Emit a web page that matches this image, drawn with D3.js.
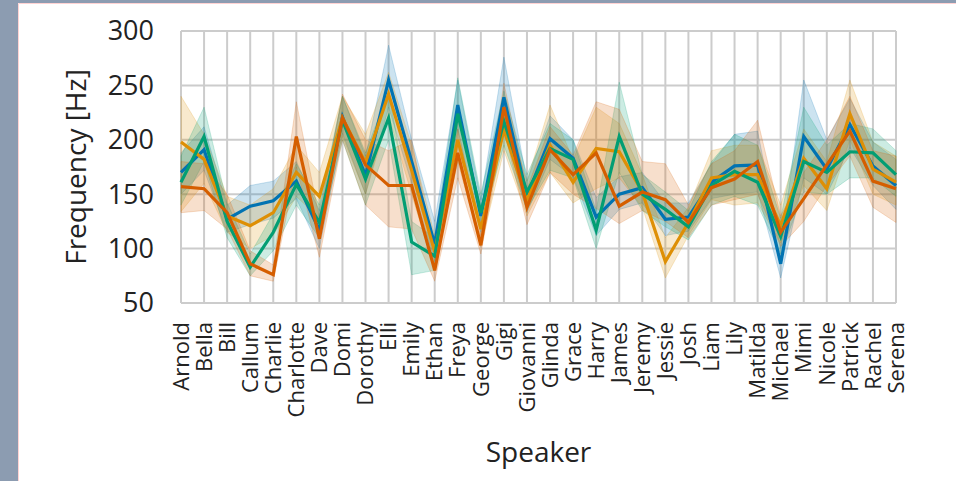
<!DOCTYPE html>
<html>
<head>
<meta charset="utf-8">
<script src="https://cdn.jsdelivr.net/npm/d3@7"></script>
<style>
  html, body { margin: 0; background: #fff; overflow: hidden; }
  svg { display: block; }
  text { font-family: "Open Sans", sans-serif; fill: #222; }
</style>
</head>
<body>
<svg id="chart"></svg>
<script>
// speakers on the x axis
const speakers = ["Arnold", "Bella", "Bill", "Callum", "Charlie", "Charlotte", "Dave", "Domi",
    "Dorothy", "Elli", "Emily", "Ethan", "Freya", "George", "Gigi", "Giovanni", "Glinda",
    "Grace", "Harry", "James", "Jeremy", "Jessie", "Josh", "Liam", "Lily", "Matilda",
    "Michael", "Mimi", "Nicole", "Patrick", "Rachel", "Serena"];

// mean frequency per series
const blueMean = [170, 191, 127, 139, 144, 162, 117, 221, 167, 255, 180, 104, 232, 130, 239, 148, 201, 183, 129, 150, 156, 127, 129, 161, 176, 177, 86, 203, 173, 214, 176, 158];
const orangeMean = [198, 182, 130, 121, 133, 170, 148, 220, 179, 242, 172, 97, 200, 118, 209, 145, 195, 161, 192, 189, 152, 88, 124, 165, 168, 168, 121, 183, 155, 224, 173, 161];
const greenMean = [161, 203, 125, 83, 115, 159, 124, 218, 164, 220, 106, 93, 224, 133, 217, 152, 192, 182, 117, 203, 150, 136, 120, 158, 171, 161, 111, 180, 170, 189, 188, 168];
const redMean = [157, 155, 133, 86, 76, 203, 109, 220, 177, 158, 158, 80, 188, 103, 230, 138, 191, 168, 188, 139, 152, 145, 124, 156, 164, 180, 115, 146, 177, 208, 162, 155];

// confidence bands
const blueLo = [150, 172, 115, 122, 128, 146, 100, 206, 150, 230, 160, 88, 210, 115, 212, 133, 182, 166, 112, 136, 142, 112, 116, 146, 150, 152, 73, 165, 150, 193, 158, 136];
const blueHi = [188, 212, 140, 158, 162, 180, 135, 240, 185, 287, 200, 125, 255, 145, 276, 162, 222, 200, 147, 166, 170, 142, 142, 178, 205, 208, 100, 255, 200, 238, 198, 182];
const orangeLo = [134, 160, 115, 100, 112, 148, 128, 203, 150, 222, 150, 80, 180, 102, 190, 130, 170, 142, 155, 165, 138, 73, 112, 145, 140, 142, 105, 158, 135, 200, 150, 140];
const orangeHi = [240, 205, 148, 140, 155, 195, 170, 240, 205, 262, 195, 112, 222, 135, 230, 162, 232, 182, 230, 215, 168, 110, 138, 190, 195, 195, 140, 210, 180, 255, 198, 185];
const greenLo = [140, 180, 110, 75, 98, 140, 110, 200, 140, 200, 76, 80, 200, 118, 195, 136, 172, 165, 100, 170, 135, 120, 108, 140, 148, 140, 95, 152, 150, 165, 165, 148];
const greenHi = [185, 230, 142, 95, 132, 178, 140, 240, 188, 245, 125, 110, 257, 150, 245, 168, 215, 200, 135, 253, 168, 152, 135, 180, 205, 195, 128, 230, 195, 215, 210, 190];
const redLo = [133, 135, 118, 75, 70, 175, 92, 200, 140, 120, 118, 70, 165, 95, 210, 122, 170, 150, 137, 123, 135, 125, 110, 140, 145, 150, 102, 125, 158, 185, 138, 124];
const redHi = [180, 178, 150, 98, 85, 235, 128, 242, 200, 190, 200, 95, 210, 112, 252, 155, 212, 186, 235, 228, 180, 178, 140, 178, 190, 218, 130, 170, 200, 240, 190, 185];

const yTicks = [50, 100, 150, 200, 250, 300];

const series = [
    { color: "#0173b2", mean: blueMean, lo: blueLo, hi: blueHi },
    { color: "#de8f05", mean: orangeMean, lo: orangeLo, hi: orangeHi },
    { color: "#029e73", mean: greenMean, lo: greenLo, hi: greenHi },
    { color: "#d55e00", mean: redMean, lo: redLo, hi: redHi }
];

let width = 956, height = 481;
let svg = d3.select("#chart").attr("width", width).attr("height", height);

// page frame: grey strip left and top, white card with a pink edge
svg.append("rect").attr("x", 0).attr("y", 0).attr("width", 18).attr("height", height).attr("fill", "#8c9cb1");
svg.append("rect").attr("x", 0).attr("y", 0).attr("width", width).attr("height", 3).attr("fill", "#8c9cb1");
svg.append("path")
    .attr("d", `M18.5,${height} V3.5 H${width}`)
    .attr("fill", "none")
    .attr("stroke", "#ffd3d3");

let plotLeft = 181, plotRight = 896, plotTop = 31, plotBottom = 303;

let x = d3.scalePoint().domain(speakers).range([plotLeft, plotRight]).padding(0);
let y = d3.scaleLinear().domain([50, 300]).range([plotBottom, plotTop]);

// grid
let grid = svg.append("g").attr("stroke", "#cccccc").attr("stroke-width", 2);
grid.selectAll("line.v")
    .data(speakers)
    .join("line")
    .attr("class", "v")
    .attr("x1", d => x(d)).attr("x2", d => x(d))
    .attr("y1", plotTop).attr("y2", plotBottom);
grid.selectAll("line.h")
    .data(yTicks)
    .join("line")
    .attr("class", "h")
    .attr("x1", plotLeft).attr("x2", plotRight)
    .attr("y1", d => y(d)).attr("y2", d => y(d));

// bands first, lines on top
let area = d3.area()
    .x((d, i) => x(speakers[i]))
    .y0(d => y(d[0]))
    .y1(d => y(d[1]));

svg.append("g")
    .selectAll("path")
    .data(series)
    .join("path")
    .attr("d", s => area(s.lo.map((v, i) => [v, s.hi[i]])))
    .attr("fill", s => s.color)
    .attr("fill-opacity", 0.2)
    .attr("stroke", s => s.color)
    .attr("stroke-opacity", 0.2)
    .attr("stroke-width", 1);

let line = d3.line()
    .x((d, i) => x(speakers[i]))
    .y(d => y(d));

svg.append("g")
    .selectAll("path")
    .data(series)
    .join("path")
    .attr("d", s => line(s.mean))
    .attr("fill", "none")
    .attr("stroke", s => s.color)
    .attr("stroke-width", 3.2)
    .attr("stroke-linejoin", "miter");

// y axis ticks
svg.append("g")
    .selectAll("text")
    .data(yTicks)
    .join("text")
    .attr("x", 154)
    .attr("y", d => y(d))
    .attr("dy", "0.35em")
    .attr("text-anchor", "end")
    .attr("font-size", "27px")
    .text(d => d);

// x axis ticks
svg.append("g")
    .selectAll("text")
    .data(speakers)
    .join("text")
    .attr("transform", d => `translate(${x(d)},322) rotate(-90)`)
    .attr("dy", "0.35em")
    .attr("text-anchor", "end")
    .attr("font-size", "22px")
    .text(d => d);

svg.append("text")
    .attr("transform", `translate(86,${(plotTop + plotBottom) / 2}) rotate(-90)`)
    .attr("text-anchor", "middle")
    .attr("font-size", "28px")
    .text("Frequency [Hz]");

svg.append("text")
    .attr("x", (plotLeft + plotRight) / 2)
    .attr("y", 462)
    .attr("text-anchor", "middle")
    .attr("font-size", "28px")
    .text("Speaker");
</script>
</body>
</html>
